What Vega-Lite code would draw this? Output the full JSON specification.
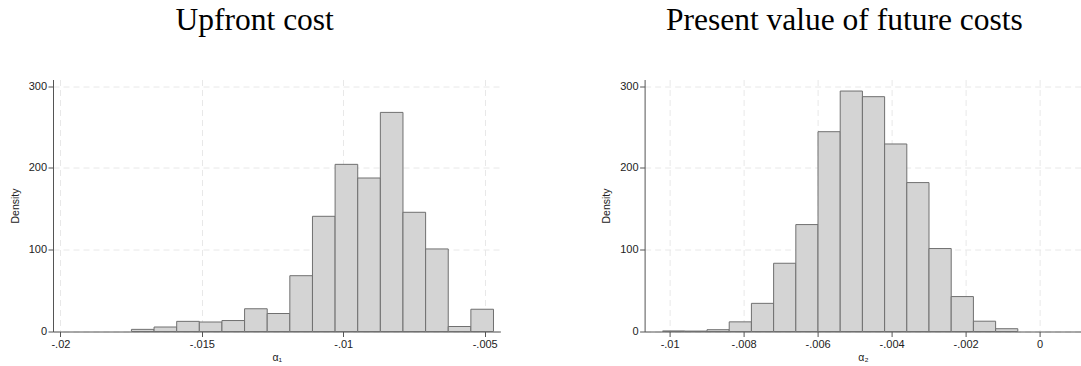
{
  "$schema": "https://vega.github.io/schema/vega-lite/v6.json",
  "padding": {"left": 10, "top": 4.5, "right": 0, "bottom": 0},
  "autosize": {"type": "pad"},
  "background": "white",
  "datasets": {
    "a1": [
      {"lo": -0.017489, "hi": -0.016689, "density": 2.6},
      {"lo": -0.016689, "hi": -0.015889, "density": 5.5},
      {"lo": -0.015889, "hi": -0.015089, "density": 12.4},
      {"lo": -0.015089, "hi": -0.014289, "density": 11.6},
      {"lo": -0.014289, "hi": -0.013489, "density": 13.4},
      {"lo": -0.013489, "hi": -0.012689, "density": 27.8},
      {"lo": -0.012689, "hi": -0.011889, "density": 22.0},
      {"lo": -0.011889, "hi": -0.011089, "density": 68.2},
      {"lo": -0.011089, "hi": -0.010289, "density": 140.8},
      {"lo": -0.010289, "hi": -0.009489, "density": 204.3},
      {"lo": -0.009489, "hi": -0.008689, "density": 187.6},
      {"lo": -0.008689, "hi": -0.007889, "density": 267.8},
      {"lo": -0.007889, "hi": -0.007089, "density": 145.7},
      {"lo": -0.007089, "hi": -0.006289, "density": 100.9},
      {"lo": -0.006289, "hi": -0.005489, "density": 6.1},
      {"lo": -0.005489, "hi": -0.004689, "density": 27.2}
    ],
    "a2": [
      {"lo": -0.010189, "hi": -0.009589, "density": 0.7},
      {"lo": -0.009589, "hi": -0.008989, "density": 0.5},
      {"lo": -0.008989, "hi": -0.008389, "density": 2.2},
      {"lo": -0.008389, "hi": -0.007789, "density": 11.8},
      {"lo": -0.007789, "hi": -0.007189, "density": 34.4},
      {"lo": -0.007189, "hi": -0.006589, "density": 83.4},
      {"lo": -0.006589, "hi": -0.005989, "density": 130.7},
      {"lo": -0.005989, "hi": -0.005389, "density": 244.2},
      {"lo": -0.005389, "hi": -0.004789, "density": 293.9},
      {"lo": -0.004789, "hi": -0.004189, "density": 287.0},
      {"lo": -0.004189, "hi": -0.003589, "density": 229.2},
      {"lo": -0.003589, "hi": -0.002989, "density": 182.0},
      {"lo": -0.002989, "hi": -0.002389, "density": 101.4},
      {"lo": -0.002389, "hi": -0.001789, "density": 42.7},
      {"lo": -0.001789, "hi": -0.001189, "density": 12.6},
      {"lo": -0.001189, "hi": -0.000589, "density": 3.4}
    ]
  },
  "spacing": 143.6,
  "bounds": "flush",
  "hconcat": [
    {
      "width": 447.4,
      "height": 252,
      "title": {"text": "Upfront cost", "dx": -22},
      "data": {"name": "a1"},
      "mark": {"type": "bar", "fill": "#d4d4d4", "stroke": "#707070", "strokeWidth": 1, "clip": false},
      "encoding": {
        "x": {
          "field": "lo", "type": "quantitative",
          "scale": {"domain": [-0.020262, -0.004445], "nice": false, "zero": false},
          "axis": {"values": [-0.02, -0.015, -0.01, -0.005], "title": "α₁"}
        },
        "x2": {"field": "hi"},
        "y": {
          "field": "density", "type": "quantitative",
          "scale": {"domain": [0, 308], "nice": false},
          "axis": {"values": [0, 100, 200, 300], "title": "Density"}
        },
        "y2": {"datum": 0}
      }
    },
    {
      "width": 436.7,
      "height": 252,
      "title": {"text": "Present value of future costs", "dx": -18.6},
      "data": {"name": "a2"},
      "mark": {"type": "bar", "fill": "#d4d4d4", "stroke": "#707070", "strokeWidth": 1, "clip": false},
      "encoding": {
        "x": {
          "field": "lo", "type": "quantitative",
          "scale": {"domain": [-0.010676, 0.001127], "nice": false, "zero": false},
          "axis": {"values": [-0.01, -0.008, -0.006, -0.004, -0.002, 0], "title": "α₂"}
        },
        "x2": {"field": "hi"},
        "y": {
          "field": "density", "type": "quantitative",
          "scale": {"domain": [0, 308], "nice": false},
          "axis": {"values": [0, 100, 200, 300], "title": "Density"}
        },
        "y2": {"datum": 0}
      }
    }
  ],
  "config": {
    "view": {"stroke": null},
    "title": {
      "font": "Liberation Serif", "fontSize": 31.5, "fontWeight": "normal",
      "color": "#000000", "anchor": "middle", "baseline": "alphabetic", "offset": 43.3
    },
    "axis": {
      "grid": true, "gridColor": "#e8e8e8", "gridDash": [6, 4], "gridWidth": 1,
      "domainColor": "#555555", "tickColor": "#555555", "tickSize": 5,
      "labelFont": "Liberation Sans", "labelFontSize": 11, "labelColor": "#222222",
      "titleFont": "Liberation Sans", "titleFontSize": 10.5, "titleFontWeight": "normal", "titleColor": "#222222",
      "labelOverlap": false
    },
    "axisX": {
      "labelPadding": 1.5, "titlePadding": 3, "labelFlush": false,
      "labelExpr": "datum.value == 0 ? '0' : (datum.value < 0 ? '-' : '') + replace(format(abs(datum.value), '.3~f'), '0.', '.')"
    },
    "axisY": {"labelPadding": 1.5, "titlePadding": 8}
  }
}
